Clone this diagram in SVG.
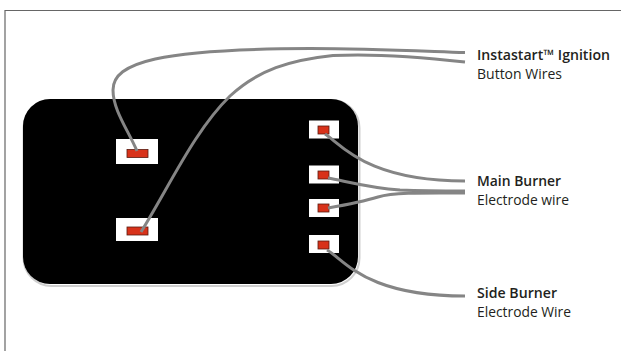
<svg xmlns="http://www.w3.org/2000/svg" width="621" height="351" viewBox="0 0 621 351">
<style>
.box{fill:#fff}
.led{fill:#d8321a;stroke:#5a1a10;stroke-width:.8}
.wire{fill:none;stroke:#858585;stroke-width:3;stroke-linecap:butt}
text{font-family:"Open Sans","Noto Sans","Liberation Sans",sans-serif;font-size:14.500px;fill:#231f20}
.b{font-weight:600}
</style>
<rect width="621" height="351" fill="#fff"/>
<path d="M5 351V10.500H621" fill="none" stroke="#666" stroke-width="1.200"/>
<g id="panel">
<rect x="23.500" y="100" width="336" height="186" rx="28" fill="#fff" stroke="#cfcfcf" stroke-width="2"/>
<rect x="23" y="99" width="335" height="185" rx="27" fill="#000"/>
</g>
<g id="button-1"><rect class="box" x="116" y="139" width="42" height="25"/><rect class="led" x="127" y="149.500" width="21" height="8"/></g>
<g id="button-2"><rect class="box" x="116" y="218" width="42" height="23"/><rect class="led" x="127" y="227" width="21" height="8"/></g>
<g id="electrode-1"><rect class="box" x="309" y="120.500" width="30" height="18"/><rect class="led" x="318" y="126" width="11" height="8"/></g>
<g id="electrode-2"><rect class="box" x="309" y="165.500" width="30" height="18"/><rect class="led" x="318" y="171" width="11" height="8"/></g>
<g id="electrode-3"><rect class="box" x="309" y="199" width="30" height="18"/><rect class="led" x="318" y="204" width="11" height="8"/></g>
<g id="electrode-4"><rect class="box" x="309" y="235" width="30" height="18"/><rect class="led" x="318" y="241" width="11" height="8"/></g>
<g id="connectors">
<path class="wire" d="M137 151C128 130 113 110 113 90C113 62 160 49 310 48.500C370 48.500 420 51 465 52.500"/>
<path class="wire" d="M141 232C170 185 195 130 230 96C258 70 290 60 333 55.500C380 53 430 58 465 62"/>
<path class="wire" d="M325 134C340 143 365 181 465 181"/>
<path class="wire" d="M328 178C345 181 370 188 400 190C425 191 445 191 465 191"/>
<path class="wire" d="M328 208C345 205 365 201 378 197C395 192 430 193 465 193"/>
<path class="wire" d="M327 250C345 260 365 296 465 296"/>
</g>
<g id="label-ignition"><text class="b" x="477" y="60" textLength="133" lengthAdjust="spacingAndGlyphs">Instastart™ Ignition</text><text x="477" y="79" textLength="85" lengthAdjust="spacingAndGlyphs">Button Wires</text></g>
<g id="label-main"><text class="b" x="477" y="186" textLength="84" lengthAdjust="spacingAndGlyphs">Main Burner</text><text x="477" y="205" textLength="92" lengthAdjust="spacingAndGlyphs">Electrode wire</text></g>
<g id="label-side"><text class="b" x="477" y="298" textLength="80" lengthAdjust="spacingAndGlyphs">Side Burner</text><text x="477" y="317" textLength="94" lengthAdjust="spacingAndGlyphs">Electrode Wire</text></g>
</svg>
